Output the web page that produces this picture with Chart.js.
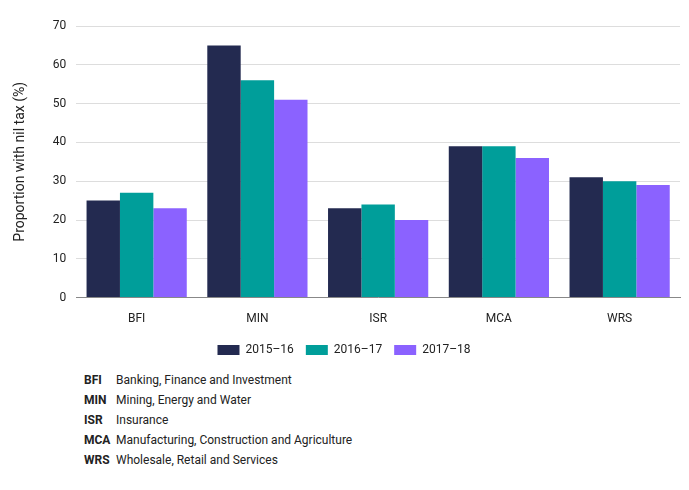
<!DOCTYPE html>
<html><head><meta charset="utf-8">
<script src="https://cdn.jsdelivr.net/npm/chart.js@4"></script>
<style>
body{margin:0;background:#fff;font-family:Roboto,sans-serif;color:#222}
#wrap{position:absolute;left:0;top:0;width:689px;height:366px}
#notes{position:absolute;left:84px;top:370px;font-size:12px;line-height:20px}
#notes b{display:inline-block;width:32px;font-weight:700}
</style></head><body>
<div id="wrap"><canvas id="c"></canvas></div>
<div id="notes">
<div><b>BFI</b>Banking, Finance and Investment</div>
<div><b>MIN</b>Mining, Energy and Water</div>
<div><b>ISR</b>Insurance</div>
<div><b>MCA</b>Manufacturing, Construction and Agriculture</div>
<div><b>WRS</b>Wholesale, Retail and Services</div>
</div>
<script>
const categories=["BFI","MIN","ISR","MCA","WRS"];
const seriesNames=["2015–16","2016–17","2017–18"];
const s1=[25,65,23,39,31];
const s2=[27,56,24,39,30];
const s3=[23,51,20,36,29];
const colors=["#232a50","#009e9a","#8b62ff"];
Chart.defaults.font.family="Roboto";
Chart.defaults.color="#222";
new Chart(document.getElementById('c'),{
type:'bar',
data:{labels:categories,datasets:[s1,s2,s3].map((d,i)=>({label:seriesNames[i],data:d,backgroundColor:colors[i],categoryPercentage:0.83,barPercentage:1}))},
options:{responsive:true,maintainAspectRatio:false,animation:false,
layout:{padding:{left:8,right:9,top:26,bottom:0}},
plugins:{legend:{position:'bottom',labels:{boxWidth:22,boxHeight:10,padding:12,font:{size:12}}},tooltip:{enabled:false}},
scales:{
x:{grid:{display:false},border:{color:'#888'},ticks:{font:{size:12},padding:6}},
y:{min:0,max:70,ticks:{stepSize:10,font:{size:12},padding:10},grid:{color:'#ddd',drawTicks:false},border:{display:false},
title:{display:true,text:'Proportion with nil tax (%)',font:{size:14},padding:{bottom:14}}}
}}});
</script></body></html>
